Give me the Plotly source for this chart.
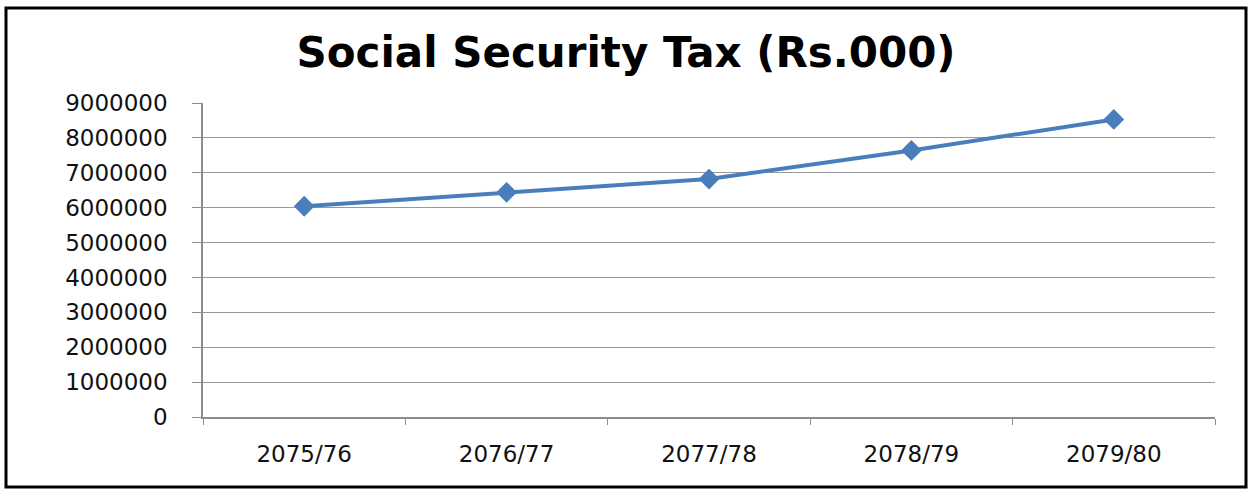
import plotly.graph_objects as go

years = ["2075/76", "2076/77", "2077/78", "2078/79", "2079/80"]
tax = [6040000, 6440000, 6820000, 7640000, 8530000]
y_ticks = [0, 1000000, 2000000, 3000000, 4000000, 5000000, 6000000, 7000000, 8000000, 9000000]

fig = go.Figure()
fig.add_trace(go.Scatter(
    x=years, y=tax, mode="lines+markers",
    line=dict(color="#4A7EBB", width=4),
    marker=dict(symbol="diamond", size=16, color="#4A7EBB"),
    showlegend=False,
))

# plot area ~ x 203..1215, y 103..417 in pixels
L, R, T, B = 203, 37, 103, 72
pw, ph = 1252 - L - R, 489 - T - B

fig.update_layout(
    width=1252, height=489,
    margin=dict(l=L, r=R, t=T, b=B),
    paper_bgcolor="white", plot_bgcolor="white",
    title=dict(text="<b>Social Security Tax (Rs.000)</b>", x=0.5, xanchor="center",
               y=1 - 52 / 489, yanchor="middle",
               font=dict(family="DejaVu Sans", size=42, color="black")),
    font=dict(family="DejaVu Sans", size=23, color="#111"),
)
fig.update_xaxes(
    type="category", range=[-0.5, 4.5], tickson="boundaries", ticks="outside", ticklen=6,
    tickcolor="#8c8c8c", showline=True, linecolor="#8c8c8c", linewidth=1.5,
    showgrid=False, ticklabelstandoff=16,
)
fig.update_yaxes(
    range=[0, 9000000], tickvals=y_ticks, ticktext=[str(v) for v in y_ticks],
    ticks="outside", ticklen=9, tickcolor="#8c8c8c",
    showline=True, linecolor="#8c8c8c", linewidth=1.5,
    showgrid=True, gridcolor="#999999", gridwidth=1.2, zeroline=False,
    ticklabelstandoff=20,
)

# outer chart border
fig.add_shape(type="rect", xref="paper", yref="paper",
              x0=(6 - L) / pw, x1=(1246 - L) / pw,
              y0=(489 - B - 487) / ph, y1=(489 - B - 8) / ph,
              line=dict(color="black", width=3), layer="above")

fig.write_html("out.html", config={"displayModeBar": False},
               post_script="document.body.style.margin='0';")
